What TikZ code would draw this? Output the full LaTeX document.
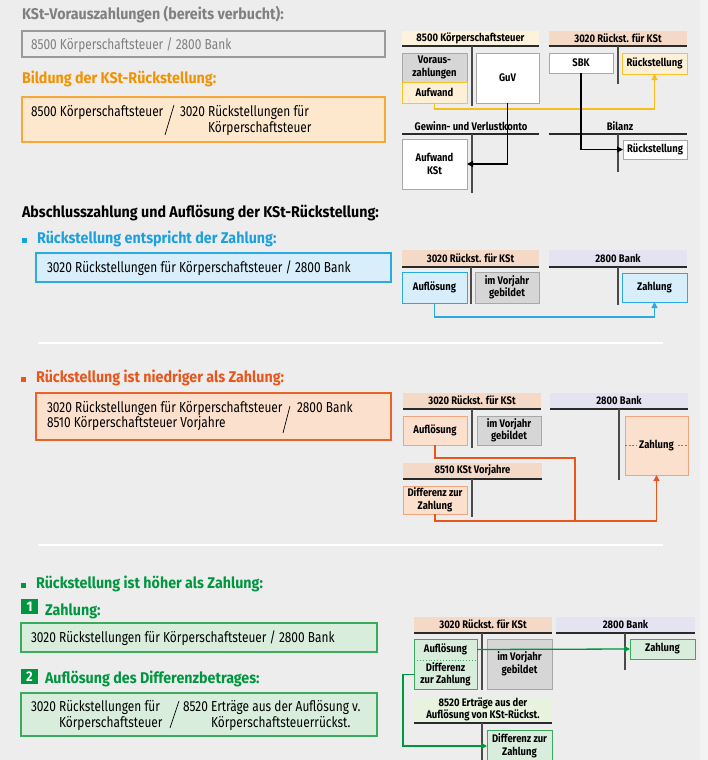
\documentclass[tikz,border=0pt]{standalone}
\usepackage{fontspec}
\setmainfont{Fira Sans}[FakeStretch=0.82]
\newfontfamily\ttlfont{Fira Sans}[FakeStretch=0.92]
\newfontfamily\acctfont{Fira Sans}[FakeStretch=0.86]
\usetikzlibrary{arrows.meta}

\definecolor{bg}{HTML}{EDEDED}
\definecolor{bgR}{HTML}{F3F3F3}
\definecolor{grayTxt}{HTML}{808080}
\definecolor{grayBd}{HTML}{9A9A9A}
\definecolor{orTxt}{HTML}{F39200}
\definecolor{orFill}{HTML}{FDE8CE}
\definecolor{orBd}{HTML}{F6A83C}
\definecolor{yeBd}{HTML}{F8C42A}
\definecolor{yeFill}{HTML}{FDF0D6}
\definecolor{yeArrow}{HTML}{F7BD1B}
\definecolor{cream}{HTML}{FDF2DC}
\definecolor{salmon}{HTML}{F5D9C7}
\definecolor{lav}{HTML}{E3E3F2}
\definecolor{blTxt}{HTML}{1BA1DE}
\definecolor{blFill}{HTML}{D8EEFB}
\definecolor{blBd}{HTML}{2BA9E1}
\definecolor{rdTxt}{HTML}{E8561B}
\definecolor{rdFill}{HTML}{FCE0CE}
\definecolor{rdBd}{HTML}{E9622A}
\definecolor{rdBoxBd}{HTML}{F2A47E}
\definecolor{grTxt}{HTML}{00963F}
\definecolor{grFill}{HTML}{D9EDDD}
\definecolor{grBd}{HTML}{3AAA5C}
\definecolor{grHead}{HTML}{E7F2DF}
\definecolor{boxGray}{HTML}{D6D6D6}
\definecolor{boxGrayBd}{HTML}{A8A8A8}
\definecolor{tl}{HTML}{2A2A2A}
\definecolor{tlv}{HTML}{4A4A4A}

\tikzset{
  txt/.style={inner sep=0pt, outer sep=0pt, anchor=base west,
    font=\fontsize{14.5}{16}\selectfont},
  ttl/.style={inner sep=0pt, outer sep=0pt, anchor=base west,
    font=\ttlfont\fontsize{15.5}{18}\selectfont\bfseries},
  entry/.style={draw, line width=1.3pt, inner sep=0pt, outer sep=0pt},
  acct/.style={inner sep=0pt, outer sep=0pt, align=center,
    font=\acctfont\fontsize{11}{12.5}\selectfont\bfseries},
  head/.style={acct},
  tbox/.style={acct, draw, line width=0.9pt},
  thor/.style={draw=tl, line width=1.6pt},
  tver/.style={draw=tlv, line width=1.8pt},
  link/.style={line width=1.3pt, -{Triangle[length=6pt,width=6pt]}},
  numsq/.style={fill=grTxt, text=white, inner sep=0pt, outer sep=0pt,
    minimum width=17pt, minimum height=15pt,
    font=\ttlfont\fontsize{14}{14}\selectfont\bfseries},
  sep/.style={draw=white, line width=1.5pt},
}

% box from corner (x1,y1) to corner (x2,y2)
\newcommand{\placebox}[7]{%
  \node[#2, anchor=north west, minimum width={(#5-#3)*1pt},
        minimum height={(#6-#4)*1pt}] (#1) at (#3,#4) {#7};}

\begin{document}
\begin{tikzpicture}[x=1pt, y=-1pt]
\useasboundingbox (0,0) rectangle (708,760);
\fill[bg] (0,0) rectangle (708,760);
\fill[bgR] (700,0) rectangle (708,760);

% ---------- advance payments and accrual ----------
\node[ttl, text=grayTxt] (t1) at (22,20) {KSt-Vorauszahlungen (bereits verbucht):};
\placebox{e1}{entry, draw=grayBd, fill=bg}{22}{31}{385}{57}{}
\node[txt, text=grayTxt] (e1t) at (31,49) {8500 Körperschaftsteuer / 2800 Bank};

\node[ttl, text=orTxt] (t2) at (22,83) {Bildung der KSt-Rückstellung:};
\placebox{e2}{entry, draw=orBd, fill=orFill}{22}{97}{385}{142}{}
\node[txt] (e2l) at (31,116) {8500 Körperschaftsteuer};
\draw[line width=0.7pt] (174,105) -- (165,135);
\node[txt] (e2r) at (180,116) {\begin{tabular}[t]{@{}l@{\ }l@{}}3020 & Rückstellungen für\\ & Körperschaftsteuer\end{tabular}};

% T-accounts
\placebox{h8500}{head, fill=cream}{402}{31}{539}{45}{8500 Körperschaftsteuer}
\draw[thor] (402,46) -- (539,46);
\draw[tver] (472,46) -- (472,106);
\placebox{vz}{tbox, fill=boxGray, draw=boxGrayBd}{402}{53}{467}{82}{Voraus-\\zahlungen}
\placebox{aufw}{tbox, fill=yeFill, draw=yeBd}{402}{82}{467}{103}{Aufwand}
\placebox{guv}{tbox, fill=white, draw=boxGrayBd}{476}{53}{539}{103}{GuV}

\placebox{h3020a}{head, fill=salmon}{549}{31}{687}{45}{3020 Rückst. für KSt}
\draw[thor] (549,46) -- (687,46);
\draw[tver] (618,46) -- (618,84);
\placebox{sbk}{tbox, fill=white, draw=boxGrayBd}{549}{53}{613}{73}{SBK}
\placebox{rs1}{tbox, fill=yeFill, draw=yeBd}{622}{53}{687}{74}{Rückstellung}

\node[acct] (gvl) at (471,126) {Gewinn- und Verlustkonto};
\draw[thor] (402,134) -- (539,134);
\draw[tver] (472,134) -- (472,193);
\placebox{akst}{tbox, fill=white, draw=boxGrayBd}{402}{139}{467}{189}{Aufwand\\KSt}

\node[acct] (bil) at (620,126) {Bilanz};
\draw[thor] (549,134) -- (687,134);
\draw[tver] (618,134) -- (618,172);
\placebox{rsb}{tbox, fill=white, draw=boxGrayBd}{623}{140}{687}{159}{Rückstellung}

\draw[link, draw=yeArrow] (aufw.south) -- ++(0,6) -| (rs1.south);
\draw[link, draw=black, line width=1.6pt] (guv.south) |- (akst.east);
\draw[link, draw=black] (sbk.south) |- (rsb.west);

% ---------- final payment ----------
\node[ttl] (t3) at (22,217) {Abschlusszahlung und Auflösung der KSt-Rückstellung:};

% case: accrual equals payment
\fill[blTxt] (22,238) rectangle (27,243);
\node[ttl, text=blTxt] (t4) at (37,243) {Rückstellung entspricht der Zahlung:};
\placebox{e4}{entry, fill=blFill, draw=blBd}{36}{253}{391}{282}{}
\node[txt] (e4t) at (47,272) {3020 Rückstellungen für Körperschaftsteuer / 2800 Bank};

\placebox{h3020b}{head, fill=salmon}{402}{250}{539}{266}{3020 Rückst. für KSt}
\draw[thor] (402,267) -- (539,267);
\draw[tver] (471,267) -- (471,304);
\placebox{aufl2}{tbox, fill=blFill, draw=blBd}{402}{272}{467}{303}{Auflösung}
\placebox{vj2}{tbox, fill=boxGray, draw=boxGrayBd}{475}{272}{539}{303}{im Vorjahr\\gebildet}
\placebox{hb2}{head, fill=lav}{549}{250}{687}{266}{2800 Bank}
\draw[thor] (549,267) -- (687,267);
\draw[tver] (618,267) -- (618,305);
\placebox{zahl2}{tbox, fill=blFill, draw=blBd}{622}{273}{687}{302}{Zahlung}
\draw[link, draw=blBd] (aufl2.south) -- ++(0,14) -| (zahl2.south);

\draw[sep] (38,343) -- (663,343);

% case: accrual lower than payment
\fill[rdTxt] (21,377) rectangle (26,382);
\node[ttl, text=rdTxt] (t5) at (36,382) {Rückstellung ist niedriger als Zahlung:};
\placebox{e5}{entry, fill=rdFill, draw=rdBd}{36}{393}{391}{440}{}
\node[txt] (e5a) at (47,412) {3020 Rückstellungen für Körperschaftsteuer};
\node[txt] (e5b) at (47,427) {8510 Körperschaftsteuer Vorjahre};
\draw[line width=0.7pt] (290,406) -- (283,433);
\node[txt] (e5c) at (297,412) {2800 Bank};

\placebox{h3020c}{head, fill=salmon}{403}{393}{541}{408}{3020 Rückst. für KSt}
\draw[thor] (403,409) -- (541,409);
\draw[tver] (472,409) -- (472,448);
\placebox{aufl3}{tbox, fill=rdFill, draw=rdBoxBd}{403}{416}{467}{445}{Auflösung}
\placebox{vj3}{tbox, fill=boxGray, draw=boxGrayBd}{477}{416}{541}{445}{im Vorjahr\\gebildet}
\placebox{hb3}{head, fill=lav}{550}{393}{688}{408}{2800 Bank}
\draw[thor] (550,409) -- (688,409);
\draw[tver] (619,409) -- (619,480);
\placebox{zahl3}{tbox, fill=rdFill, draw=rdBoxBd}{625}{416}{688}{475}{}
\draw[rdTxt, dashed, dash pattern=on 2pt off 1.5pt, line width=0.6pt] (zahl3.west) -- (zahl3.east);
\node[acct, fill=rdFill, inner xsep=2pt, inner ysep=1pt] (zt3) at (zahl3.center) {Zahlung};
\placebox{h8510}{head, fill=salmon}{403}{463}{542}{478}{8510 KSt Vorjahre}
\draw[thor] (403,479) -- (542,479);
\draw[tver] (472,479) -- (472,517);
\placebox{diff3}{tbox, fill=rdFill, draw=rdBoxBd}{403}{486}{467}{514}{Differenz zur\\Zahlung}
\coordinate (j3) at (575,521);
\draw[draw=rdTxt, line width=1.3pt] (aufl3.south) -- ++(0,13) -| (j3);
\draw[link, draw=rdTxt] (diff3.south) |- (j3) -| (zahl3.south);

\draw[sep] (38,545) -- (663,545);

% case: accrual higher than payment
\fill[grTxt] (21,583) rectangle (26,588);
\node[ttl, text=grTxt] (t6) at (36,588) {Rückstellung ist höher als Zahlung:};
\placebox{n1}{numsq}{21}{599}{38}{614}{1}
\node[ttl, text=grTxt] (t7) at (45,615) {Zahlung:};
\placebox{e6}{entry, fill=grFill, draw=grBd}{21}{623}{377}{652}{}
\node[txt] (e6t) at (31,642) {3020 Rückstellungen für Körperschaftsteuer / 2800 Bank};

\placebox{n2}{numsq}{21}{669}{38}{684}{2}
\node[ttl, text=grTxt] (t8) at (45,683) {Auflösung des Differenzbetrages:};
\placebox{e7}{entry, fill=grFill, draw=grBd}{21}{693}{377}{736}{}
\node[txt] (e7l) at (31,711) {\begin{tabular}[t]{@{}l@{\ }l@{}}3020 & Rückstellungen für\\ & Körperschaftsteuer\end{tabular}};
\draw[line width=0.7pt] (179,701) -- (170,728);
\node[txt] (e7r) at (183,711) {\begin{tabular}[t]{@{}l@{\ }l@{}}8520 & Erträge aus der Auflösung v.\\ & Körperschaftsteuerrückst.\end{tabular}};

\placebox{h3020d}{head, fill=salmon}{414}{617}{552}{632}{3020 Rückst. für KSt}
\draw[thor] (414,633) -- (552,633);
\draw[tver] (482,633) -- (482,690);
\placebox{ad4}{tbox, fill=grFill, draw=grBd}{414}{639}{477}{689}{}
\placebox{auf4}{acct}{414}{639}{477}{660}{Auflösung}
\placebox{diff4}{acct}{414}{660}{477}{689}{Differenz\\zur Zahlung}
\draw[grBd, dotted, line width=0.9pt] (diff4.north west) -- (diff4.north east);
\placebox{vj4}{tbox, fill=boxGray, draw=boxGrayBd}{487}{639}{552}{689}{im Vorjahr\\gebildet}
\placebox{hb4}{head, fill=lav}{556}{617}{695}{632}{2800 Bank}
\draw[thor] (556,633) -- (695,633);
\draw[tver] (625,633) -- (625,670);
\placebox{zahl4}{tbox, fill=grFill, draw=grBd}{630}{639}{695}{659}{Zahlung}
\placebox{h8520}{head, fill=grHead}{414}{697}{552}{722}{8520 Erträge aus der\\Auflösung von KSt-Rückst.}
\draw[thor] (414,723) -- (552,723);
\draw[tver] (482,723) -- (482,760);
\placebox{dz4}{tbox, fill=grFill, draw=grBd}{487}{730}{552}{762}{Differenz zur\\Zahlung}

\draw[link, draw=grTxt] (auf4.east) -- (zahl4.west);
\draw[link, draw=grTxt] (diff4.west) -- ++(-11,0) |- (dz4.west);
\end{tikzpicture}
\end{document}
